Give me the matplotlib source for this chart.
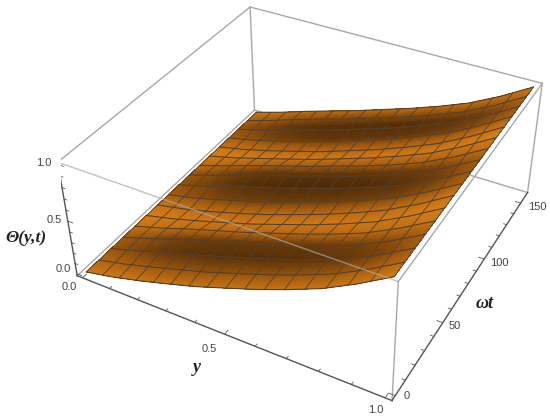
import numpy as np
import matplotlib
matplotlib.use("Agg")
import matplotlib.pyplot as plt
from matplotlib.colors import LinearSegmentedColormap
from mpl_toolkits.mplot3d import proj3d

# values
y_read = [0.0, 0.1, 0.2, 0.3, 0.4, 0.5, 0.6, 0.7, 0.8, 0.9, 1.0]
theta_base = [0.0, 0.07, 0.15, 0.23, 0.31, 0.40, 0.49, 0.59, 0.70, 0.84, 1.0]
ripple_amp = [0.0, 0.5, 0.9, 1.0, 1.0, 0.9, 0.75, 0.55, 0.35, 0.15, 0.0]
edge_light = [0.4, 0.25, 0.1, 0.03, 0.0, 0.0, 0.0, 0.03, 0.08, 0.2, 0.45]

t_read = [0, 10, 20, 30, 40, 50, 60, 70, 80, 90, 100, 110, 120, 130, 140, 150, 157]
ripple = [-0.03, -0.015, 0.015, 0.03, 0.015, -0.02, -0.035, -0.02, 0.015, 0.03, 0.02,
          -0.015, -0.03, -0.02, 0.01, 0.025, 0.015]
shade_t = [0.8, 0.4, 0.1, 0.2, 0.7, 0.85, 0.65, 0.2, 0.05, 0.15, 0.6, 0.85, 0.6, 0.15, 0.08, 0.45, 0.75]

y_ticks = [0.0, 0.5, 1.0]
y_tick_labels = ["0.0", "0.5", "1.0"]
t_ticks = [0, 50, 100, 150]
t_tick_labels = ["0", "50", "100", "150"]
z_ticks = [0.0, 0.5, 1.0]
z_tick_labels = ["0.0", "0.5", "1.0"]

x0, x1 = -0.02, 1.02
t0, t1 = -3.14, 160.2
z0, z1 = -0.02, 1.02

grey = "#a8a8a8"
dark = "#555555"
mesh = "#54402c"
tick_font = "Liberation Sans"

fig = plt.figure(figsize=(5.5, 4.17), dpi=100)
ax = fig.add_axes([60.87 / 550, -12.71 / 417, 489 / 550, 489 / 417], projection="3d", computed_zorder=False)
ax.set_xlim(x0, x1)
ax.set_ylim(t0, t1)
ax.set_zlim(z0, z1)
ax.view_init(36.59, -61.0, 0.425)
ax.set_proj_type("persp", focal_length=0.4293)
ax.set_box_aspect((1, 0.986, 0.4018), zoom=1)
ax.set_axis_off()


def theta(yy, tt):
    return np.interp(yy, y_read, theta_base) + np.interp(tt, t_read, ripple) * np.interp(yy, y_read, ripple_amp)


def box_line(a, b, color=grey, lw=1.0, z=1):
    ax.plot([a[0], b[0]], [a[1], b[1]], [a[2], b[2]], color=color, lw=lw, zorder=z)


# box edges behind the surface
box_line((x0, t1, z0), (x0, t1, z1))
box_line((x0, t1, z0), (x1, t1, z0))
box_line((x1, t1, z0), (x1, t1, z1))
box_line((x0, t1, z1), (x1, t1, z1))
box_line((x0, t0, z1), (x0, t1, z1))
box_line((x0, t0, z0), (x0, t1, z0))
box_line((x1, t0, z1), (x1, t1, z1))
box_line((x1, t0, z0), (x1, t0, z1))

# surface, drawn finer than the mesh so the bands look smooth
cmap = LinearSegmentedColormap.from_list("copper_orange", ["#452507", "#a05a0e", "#e08318"])
yy = np.linspace(0, 1, 61)
tt = np.linspace(0, 157, 141)
Y, T = np.meshgrid(yy, tt)
Z = theta(Y, T)
Ym = 0.5 * (Y[:-1, :-1] + Y[1:, 1:])
Tm = 0.5 * (T[:-1, :-1] + T[1:, 1:])
st = np.interp(Tm, t_read, shade_t)
shade = st + (1 - st) * np.interp(Ym, y_read, edge_light)
ax.plot_surface(Y, T, Z, facecolors=cmap(shade), rstride=1, cstride=1, shade=False,
                linewidth=0, antialiased=False, zorder=2)

# mesh lines
for v in np.linspace(0, 1, 17):
    ax.plot(np.full_like(tt, v), tt, theta(np.full_like(tt, v), tt), color=mesh, lw=0.6, zorder=3)
for v in np.linspace(0, 157, 17):
    ax.plot(yy, np.full_like(yy, v), theta(yy, np.full_like(yy, v)), color=mesh, lw=0.8, zorder=3)

# box edge passing in front of the surface
ax.plot([x0, x1], [t0, t0], [z1, z1], color=grey, lw=1.0, alpha=0.7, zorder=4)

# axes with ticks
box_line((x0, t0, z0), (x1, t0, z0), dark, 1.0, 5)
box_line((x1, t0, z0), (x1, t1, z0), dark, 1.0, 5)
box_line((x0, t0, z0), (x0, t0, z1), dark, 1.0, 5)
for v in np.arange(0, 1.01, 0.1):
    size = 0.018 if abs(v * 10 % 5) < 1e-6 else 0.01
    box_line((v, t0, z0), (v, t0 + size * 160, z0), dark, 0.6, 5)
    box_line((x0, t0, v), (x0 + size, t0, v), dark, 0.6, 5)
for v in range(0, 151, 10):
    size = 0.018 if v % 50 == 0 else 0.01
    box_line((x1, v, z0), (x1 - size, v, z0), dark, 0.6, 5)


def tick_label(x, y, z, s, dx, dy):
    xs, ys, _ = proj3d.proj_transform(x, y, z, ax.get_proj())
    ax.annotate(s, (xs, ys), xytext=(dx, dy), textcoords="offset pixels", ha="center", va="center",
                fontsize=8, family=tick_font, color="#444444", annotation_clip=False, zorder=6)


for v, s, off in zip(z_ticks, z_tick_labels, [(-14, 5), (-14, 1), (-14, 2)]):
    tick_label(x0, t0, v, s, *off)
for v, s, off in zip(y_ticks, y_tick_labels, [(-13, -9), (-15, -15), (-9, -12)]):
    tick_label(v, t0, z0, s, *off)
for v, s, off in zip(t_ticks, t_tick_labels, [(11, 0), (12, -3), (15, -4), (17, -4)]):
    tick_label(x1, v, z0, s, *off)

# axis labels
lab = dict(family=["Liberation Serif", "DejaVu Serif"], style="italic", weight="bold", color="#222222",
           ha="center", va="center")
fig.text(26 / 550, 1 - 238 / 417, "Θ(y,t)", fontsize=12.5, **lab)
fig.text(197 / 550, 1 - 368 / 417, "y", fontsize=13, **lab)
fig.text(485 / 550, 1 - 303 / 417, "ωt", fontsize=13, **lab)

fig.savefig("out.png", dpi=100)
